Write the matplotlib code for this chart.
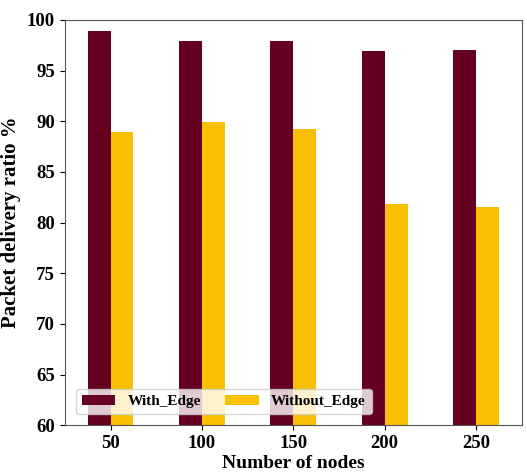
import numpy as np
import matplotlib
matplotlib.use('Agg')
import matplotlib.pyplot as plt

nodes = [50, 100, 150, 200, 250]
with_edge = [98.9, 97.9, 97.9, 96.9, 97.0]
without_edge = [88.9, 89.9, 89.2, 81.8, 81.5]

plt.rcParams['font.family'] = 'Liberation Serif'
plt.rcParams['font.weight'] = 'bold'

fig = plt.figure(figsize=(5.27, 4.74), dpi=100)
ax = fig.add_axes([0.123, 0.103, 0.867, 0.855])

x = np.array(nodes)
w = 12.5
ax.bar(x - w / 2, with_edge, w, color='#650020', label='With_Edge')
ax.bar(x + w / 2, without_edge, w, color='#F9C000', label='Without_Edge')

ax.set_xlim(25, 275)
ax.set_ylim(60, 100)
ax.set_xticks(nodes)
ax.set_yticks(np.arange(60, 101, 5))
ax.tick_params(labelsize=13.5)
for lab in ax.get_xticklabels() + ax.get_yticklabels():
    lab.set_fontweight('bold')
ax.set_xlabel('Number of nodes', fontsize=14, fontweight='bold', labelpad=2)
ax.set_ylabel('Packet delivery ratio %', fontsize=15, fontweight='bold')
for s in ax.spines.values():
    s.set_color('#555555')

ax.legend(loc='lower left', ncol=2, fontsize=11, columnspacing=1.6,
          handlelength=2.2, borderaxespad=0.7)

fig.savefig('out.png', dpi=100)
